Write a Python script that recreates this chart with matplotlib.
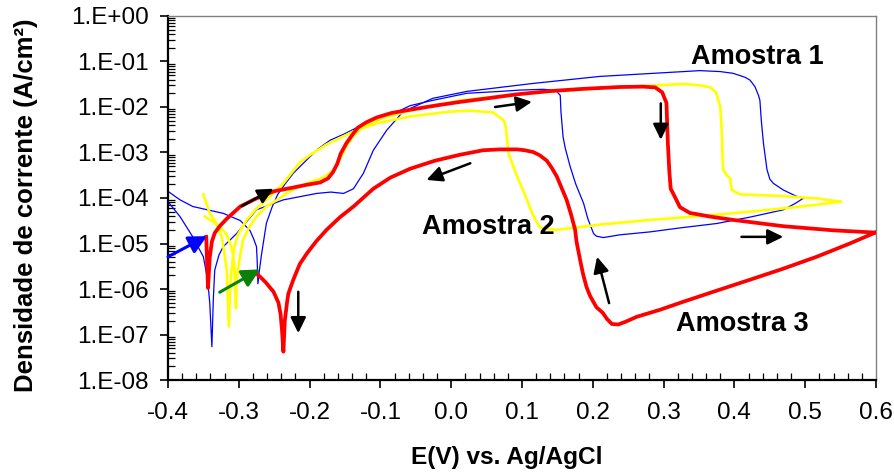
import math
import matplotlib
matplotlib.use('Agg')
import matplotlib.pyplot as plt
from matplotlib.ticker import FixedLocator, FuncFormatter, LogLocator, MultipleLocator

plt.rcParams['font.family'] = ['Liberation Sans', 'DejaVu Sans']

# Amostra 1 (azul) - varredura direta e reversa
blue_fwd_e = [-0.400, -0.383, -0.365, -0.350, -0.344, -0.341, -0.338, -0.336, -0.334, -0.328,
              -0.322, -0.303, -0.275, -0.237, -0.190, -0.170, -0.152, -0.138, -0.124, -0.110,
              -0.091, -0.068, -0.026, 0.022, 0.116, 0.210, 0.328, 0.351, 0.380, 0.398,
              0.415, 0.422, 0.429, 0.434, 0.436, 0.438, 0.441, 0.446, 0.450, 0.455,
              0.469, 0.486, 0.497]
blue_fwd_i = [8.3e-5, 3.9e-5, 1.4e-5, 5.1e-6, 1.6e-6, 4.9e-7, 5.4e-8, 5.8e-7, 2.6e-6, 5.6e-6,
              8.5e-6, 1.66e-5, 5.5e-5, 9.1e-5, 1.26e-4, 1.35e-4, 1.26e-4, 1.6e-4, 3.5e-4, 1.12e-3,
              3.1e-3, 7.9e-3, 1.55e-2, 2.2e-2, 3.3e-2, 4.7e-2, 6.0e-2, 6.3e-2, 6.0e-2, 5.5e-2,
              4.5e-2, 3.9e-2, 2.8e-2, 1.8e-2, 1.4e-2, 5.0e-3, 1.6e-3, 4.2e-4, 2.6e-4, 2.1e-4,
              1.5e-4, 1.12e-4, 9.8e-5]
blue_rev_e = [0.497, 0.486, 0.469, 0.422, 0.375, 0.323, 0.281, 0.238, 0.215, 0.205,
              0.201, 0.193, 0.187, 0.176, 0.168, 0.161, 0.158, 0.155, 0.154, 0.149,
              0.144, 0.130, 0.097, 0.069, 0.022, -0.026, -0.058, -0.082, -0.105, -0.129,
              -0.150, -0.171, -0.188, -0.204, -0.223, -0.235, -0.245, -0.253, -0.261, -0.265,
              -0.268, -0.271, -0.273, -0.274, -0.275, -0.279, -0.284, -0.289, -0.298, -0.322,
              -0.365, -0.383, -0.400]
blue_rev_i = [9.8e-5, 7.6e-5, 5.5e-5, 3.8e-5, 2.75e-5, 2.2e-5, 1.8e-5, 1.55e-5, 1.35e-5, 1.45e-5,
              1.66e-5, 3.5e-5, 7.6e-5, 2.0e-4, 4.9e-4, 1.26e-3, 2.2e-3, 7.9e-3, 1.8e-2, 2.2e-2,
              2.35e-2, 2.45e-2, 2.35e-2, 2.2e-2, 2.0e-2, 1.4e-2, 1.07e-2, 7.1e-3, 5.0e-3, 3.8e-3,
              2.6e-3, 1.86e-3, 1.2e-3, 6.9e-4, 3.5e-4, 2.0e-4, 1.2e-4, 6.3e-5, 2.8e-5, 1.12e-5,
              5.6e-6, 2.5e-6, 1.3e-6, 4.0e-6, 8.5e-6, 1.26e-5, 1.9e-5, 2.3e-5, 3.2e-5, 4.6e-5,
              6.5e-5, 9.1e-5, 1.4e-4]

# Amostra 2 (amarelo)
yel_fwd_e = [-0.348, -0.336, -0.327, -0.318, -0.312, -0.308, -0.306, -0.304, -0.303, -0.300,
             -0.298, -0.294, -0.286, -0.275, -0.262, -0.246, -0.228, -0.214, -0.197, -0.181,
             -0.167, -0.157, -0.149, -0.140, -0.126, -0.101, -0.058, 0.012, 0.069, 0.140,
             0.210, 0.281, 0.328, 0.351, 0.366, 0.374, 0.380, 0.382, 0.383, 0.384,
             0.389, 0.394, 0.396, 0.408, 0.469, 0.516, 0.550]
yel_fwd_i = [3.9e-5, 3.0e-5, 2.3e-5, 1.66e-5, 1.0e-5, 5.6e-6, 2.5e-6, 3.8e-7, 1.6e-6, 3.5e-6,
             5.6e-6, 1.2e-5, 2.2e-5, 3.9e-5, 6.3e-5, 9.1e-5, 1.4e-4, 1.8e-4, 2.3e-4, 2.8e-4,
             4.0e-4, 7.1e-4, 1.3e-3, 2.1e-3, 3.6e-3, 5.5e-3, 8.3e-3, 1.38e-2, 1.74e-2, 2.2e-2,
             2.6e-2, 2.95e-2, 3.2e-2, 3.0e-2, 2.7e-2, 2.1e-2, 1.0e-2, 3.2e-3, 1.0e-3, 4.2e-4,
             3.2e-4, 2.7e-4, 1.5e-4, 1.2e-4, 1.1e-4, 9.8e-5, 8.3e-5]
yel_rev_e = [0.550, 0.516, 0.469, 0.422, 0.351, 0.281, 0.210, 0.149, 0.132, 0.125,
             0.116, 0.107, 0.093, 0.081, 0.077, 0.074, 0.059, 0.027, -0.002, -0.058,
             -0.105, -0.138, -0.176, -0.199, -0.214, -0.237, -0.261, -0.276, -0.289, -0.301,
             -0.306, -0.309, -0.312, -0.314, -0.316, -0.317, -0.321, -0.324, -0.332, -0.341,
             -0.350]
yel_rev_i = [8.3e-5, 7.1e-5, 5.9e-5, 5.0e-5, 4.0e-5, 3.3e-5, 2.6e-5, 2.0e-5, 2.1e-5, 2.3e-5,
             4.0e-5, 9.1e-5, 3.0e-4, 9.5e-4, 3.7e-3, 5.1e-3, 7.6e-3, 8.3e-3, 7.9e-3, 6.2e-3,
             4.4e-3, 2.9e-3, 1.5e-3, 8.9e-4, 6.0e-4, 2.1e-4, 9.1e-5, 5.6e-5, 3.3e-5, 1.6e-5,
             8.9e-6, 4.0e-6, 1.26e-6, 1.5e-7, 1.0e-6, 2.6e-6, 7.1e-6, 1.4e-5, 2.8e-5, 4.6e-5,
             1.2e-4]

# Amostra 3 (vermelho)
red_fwd_e = [-0.346, -0.345, -0.3435, -0.341, -0.338, -0.334, -0.327, -0.317, -0.298, -0.277,
             -0.251, -0.223, -0.204, -0.185, -0.174, -0.167, -0.161, -0.156, -0.148, -0.140,
             -0.132, -0.120, -0.105, -0.084, -0.058, -0.023, 0.012, 0.055, 0.093, 0.140,
             0.186, 0.238, 0.271, 0.288, 0.298, 0.304, 0.306, 0.308, 0.310, 0.318,
             0.323, 0.337, 0.366, 0.398, 0.469, 0.539, 0.599]
red_fwd_i = [1.4e-5, 5.0e-6, 1.05e-6, 5.0e-6, 1.1e-5, 1.7e-5, 2.4e-5, 3.5e-5, 6.5e-5, 9.5e-5,
             1.4e-4, 1.7e-4, 1.95e-4, 2.2e-4, 2.7e-4, 3.7e-4, 5.6e-4, 9.5e-4, 1.6e-3, 2.4e-3,
             3.5e-3, 4.6e-3, 5.9e-3, 7.4e-3, 8.7e-3, 1.07e-2, 1.29e-2, 1.58e-2, 1.9e-2, 2.24e-2,
             2.5e-2, 2.75e-2, 2.8e-2, 2.7e-2, 2.1e-2, 1.23e-2, 1.6e-3, 4.0e-4, 1.6e-4, 9.1e-5,
             6.3e-5, 4.7e-5, 3.9e-5, 3.3e-5, 2.4e-5, 1.95e-5, 1.74e-5]
red_rev_e = [0.599, 0.563, 0.516, 0.469, 0.422, 0.374, 0.327, 0.295, 0.262, 0.246,
             0.236, 0.227, 0.220, 0.214, 0.205, 0.196, 0.191, 0.186, 0.182, 0.177,
             0.175, 0.169, 0.163, 0.155, 0.149, 0.142, 0.135, 0.125, 0.116, 0.104,
             0.093, 0.069, 0.045, 0.012, -0.023, -0.058, -0.086, -0.110, -0.138, -0.157,
             -0.176, -0.191, -0.204, -0.214, -0.223, -0.230, -0.232, -0.235, -0.237, -0.239,
             -0.241, -0.244, -0.251, -0.262, -0.270, -0.274]
red_rev_i = [1.74e-5, 1.0e-5, 5.1e-6, 2.8e-6, 1.6e-6, 9.1e-7, 5.2e-7, 3.5e-7, 2.45e-7, 1.9e-7,
             1.66e-7, 1.7e-7, 2.2e-7, 3.0e-7, 4.0e-7, 7.1e-7, 1.12e-6, 2.2e-6, 4.4e-6, 1.1e-5,
             2.0e-5, 4.5e-5, 9.1e-5, 1.8e-4, 3.0e-4, 4.6e-4, 6.6e-4, 8.7e-4, 1.02e-3, 1.12e-3,
             1.17e-3, 1.17e-3, 1.12e-3, 8.9e-4, 6.6e-4, 4.4e-4, 2.8e-4, 1.6e-4, 6.5e-5, 3.8e-5,
             2.0e-5, 1.1e-5, 6.0e-6, 3.5e-6, 1.6e-6, 7.9e-7, 4.9e-7, 2.0e-7, 4.2e-8, 1.26e-7,
             2.8e-7, 5.0e-7, 8.7e-7, 1.4e-6, 1.86e-6, 2.1e-6]

# setas (inicio, fim) em E(V) e A/cm2
black_arrows = [((-0.296, 6.6e-5), (-0.251, 1.6e-4)),
                ((0.062, 1.0e-2), (0.114, 1.3e-2)),
                ((0.027, 5.8e-4), (-0.035, 2.5e-4)),
                ((0.296, 1.2e-2), (0.296, 1.9e-3)),
                ((0.410, 1.4e-5), (0.469, 1.4e-5)),
                ((0.223, 4.9e-7), (0.206, 5.1e-6)),
                ((-0.216, 8.7e-7), (-0.216, 1.07e-7))]
blue_arrow = ((-0.400, 5.1e-6), (-0.345, 1.45e-5))
green_arrow = ((-0.327, 8.5e-7), (-0.270, 2.7e-6))

labels = ['Amostra 1', 'Amostra 2', 'Amostra 3']
label_pos = [(0.433, 1.25e-1), (0.052, 2.3e-5), (0.411, 1.7e-7)]

fig = plt.figure(figsize=(8.95, 4.73), dpi=100)
ax = fig.add_axes([0.1877, 0.1966, 0.7911, 0.7696])

ax.plot(blue_fwd_e, blue_fwd_i, color='#0000FF', lw=0.9, zorder=2)
ax.plot(blue_rev_e, blue_rev_i, color='#0000FF', lw=0.9, zorder=2)
ax.plot(yel_fwd_e, yel_fwd_i, color='#FFFF00', lw=1.9, zorder=3)
ax.plot(yel_rev_e, yel_rev_i, color='#FFFF00', lw=1.9, zorder=3)
ax.plot(red_fwd_e, red_fwd_i, color='#FF0000', lw=2.7, zorder=4)
ax.plot(red_rev_e, red_rev_i, color='#FF0000', lw=2.7, zorder=4)

for start, end in black_arrows:
    ax.annotate('', xy=end, xytext=start, zorder=5,
                arrowprops=dict(arrowstyle='-|>,head_length=0.45,head_width=0.22',
                                mutation_scale=21, lw=1.8, color='black',
                                shrinkA=0, shrinkB=0))
for (start, end), col in [(blue_arrow, '#0000FF'), (green_arrow, '#0A800A')]:
    ax.annotate('', xy=end, xytext=start, zorder=5,
                arrowprops=dict(arrowstyle='-|>,head_length=0.45,head_width=0.23',
                                mutation_scale=24, lw=2.2, color=col,
                                shrinkA=0, shrinkB=0))

for txt, (x, y) in zip(labels, label_pos):
    ax.text(x, y, txt, fontsize=19.5, fontweight='bold', ha='center', va='center')

ax.set_yscale('log')
ax.set_xlim(-0.4, 0.6)
ax.set_ylim(1e-8, 1e0)

ax.xaxis.set_major_locator(MultipleLocator(0.1))
ax.xaxis.set_minor_locator(MultipleLocator(0.02))
ax.xaxis.set_major_formatter(FuncFormatter(lambda v, p: f'{v:.1f}'.replace('-0.0', '0.0')))
ax.yaxis.set_major_locator(FixedLocator([10.0 ** k for k in range(-8, 1)]))
ax.yaxis.set_minor_locator(LogLocator(base=10, subs=range(2, 10), numticks=20))
ax.yaxis.set_major_formatter(FuncFormatter(lambda v, p: '1.E%+03d' % round(math.log10(v))))

ax.tick_params(which='major', direction='out', length=6, width=1.2, labelsize=17.5)
ax.tick_params(axis='x', which='major', pad=10)
ax.tick_params(axis='y', which='major', pad=8)
ax.tick_params(which='minor', direction='in', length=5, width=0.9)
ax.tick_params(top=False, right=False, which='both')

for side in ['left', 'bottom']:
    ax.spines[side].set_color('black')
    ax.spines[side].set_linewidth(1.6)
for side in ['top', 'right']:
    ax.spines[side].set_color('#808080')
    ax.spines[side].set_linewidth(1.0)

ax.set_xlabel('E(V) vs. Ag/AgCl', fontsize=17.6, fontweight='bold')
ax.set_ylabel('Densidade de corrente (A/cm²)', fontsize=18.5, fontweight='bold')
ax.xaxis.set_label_coords(0.479, -0.18)
ax.yaxis.set_label_coords(-0.183, 0.48)

fig.savefig('out.png', dpi=100)
